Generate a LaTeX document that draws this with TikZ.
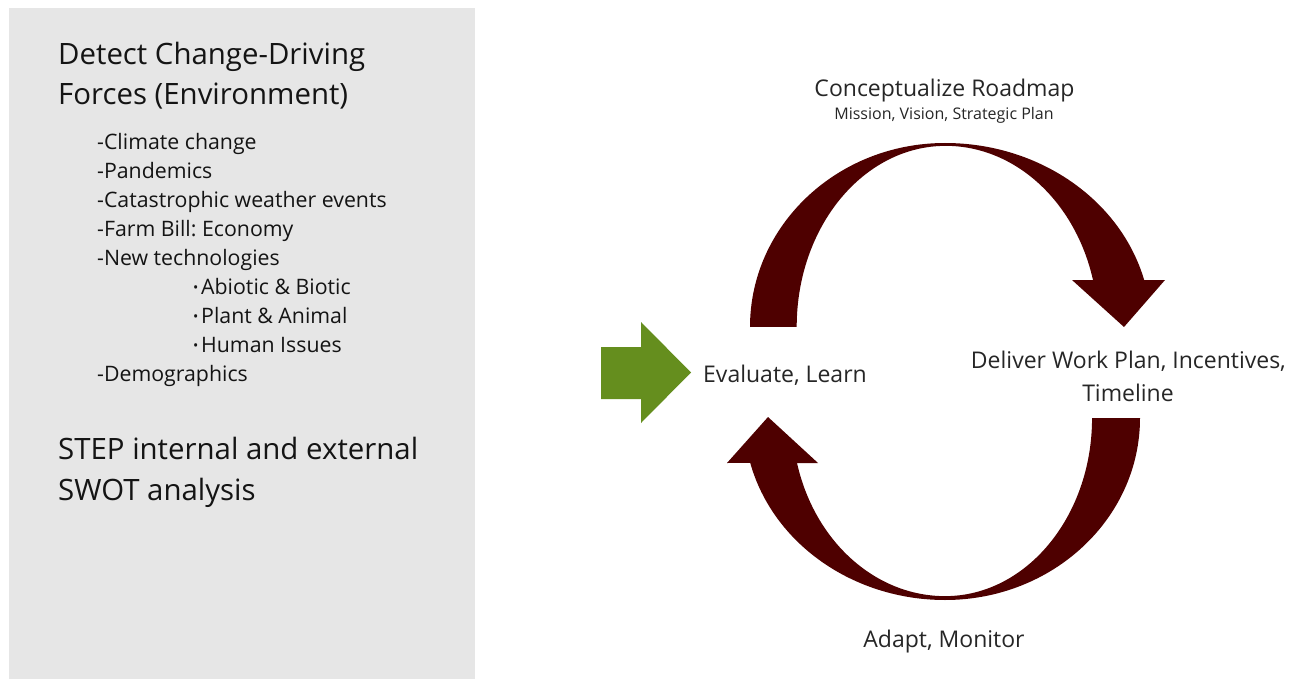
\documentclass[tikz,border=0pt]{standalone}
\usepackage{fontspec}
\setmainfont{Open Sans}
\frenchspacing
\usetikzlibrary{calc}

\definecolor{panelgray}{RGB}{230,230,230}
\definecolor{loopred}{RGB}{78,0,0}
\definecolor{leafgreen}{RGB}{101,142,30}
\definecolor{labelgray}{RGB}{38,38,38}

\tikzset{
    heading/.style={anchor=base west,inner sep=0pt,text=black!92,font=\fontsize{29.4}{40}\selectfont},
    force/.style={anchor=base west,inner sep=0pt,text=black!92,font=\fontsize{21.3}{29}\selectfont},
    stage/.style={anchor=base,inner sep=0pt,text=labelgray,font=\fontsize{23}{32}\selectfont},
}
\newcommand{\dotitem}{\makebox[8pt][l]{\raisebox{1.5pt}{\fontsize{14}{14}\selectfont •}}}

\begin{document}
\begin{tikzpicture}[x=1pt,y=-1pt]
                \useasboundingbox (0,0) rectangle (1296,679);
                \fill[panelgray] (9,8) rectangle (475,679);
                \node[heading] (title1) at (58,64.3) {Detect Change-Driving};
                \node[heading] (title2) at (58,104.3) {Forces (Environment)};
                \foreach \xpos/\txt [count=\i] in {97/-Climate change,97/-Pandemics,
                        97/-Catastrophic weather events,97/-Farm Bill: Economy,97/-New technologies,
                        193/\dotitem Abiotic \& Biotic,193/\dotitem Plant \& Animal,
                        193/\dotitem Human Issues,97/-Demographics}
                    \node[force] (f\i) at (\xpos,{149.3+29*(\i-1)}) {\txt};
                \node[heading] (swot1) at (58,459.5) {STEP internal and external};
                \node[heading] (swot2) at (58,500) {SWOT analysis};
                % the loop: plan on top, adapt underneath
                \fill[loopred] (750,327) arc[start angle=180,end angle=270,x radius=195,y radius=184]
                    arc[start angle=-90,end angle=-14.8,x radius=206,y radius=184]
                    -- (1165,280) -- (1124,327) -- (1072,280) -- (1093,280)
                    arc[start angle=-15,end angle=-90,x radius=152.5,y radius=181]
                    arc[start angle=270,end angle=180,x radius=149,y radius=181] -- cycle;
                \fill[loopred] (1140,418) arc[start angle=0,end angle=90,x radius=195,y radius=182]
                    arc[start angle=90,end angle=165.7,x radius=201,y radius=182]
                    -- (727,463) -- (768,417) -- (818,463) -- (797,463)
                    arc[start angle=165.4,end angle=90,x radius=153,y radius=178]
                    arc[start angle=90,end angle=0,x radius=147,y radius=178] -- cycle;
                \fill[leafgreen] (601,347) -- (641,347) -- (641,322) -- (691,372.5)
                    -- (641,423) -- (641,399) -- (601,399) -- cycle;
                \node[stage] (concept) at (944.5,96.7) {Conceptualize Roadmap};
                \node[stage,font=\fontsize{16}{18}\selectfont] (mission) at (944,119.3) {Mission, Vision, Strategic Plan};
                \node[stage,anchor=base west] (evaluate) at (703,382.7) {Evaluate, Learn};
                \node[stage] (deliver) at (1128.4,368.3) {Deliver Work Plan, Incentives,};
                \node[stage] (timeline) at (1128,401) {Timeline};
                \node[stage] (adapt) at (944,647) {Adapt, Monitor};
            \end{tikzpicture}
\end{document}
